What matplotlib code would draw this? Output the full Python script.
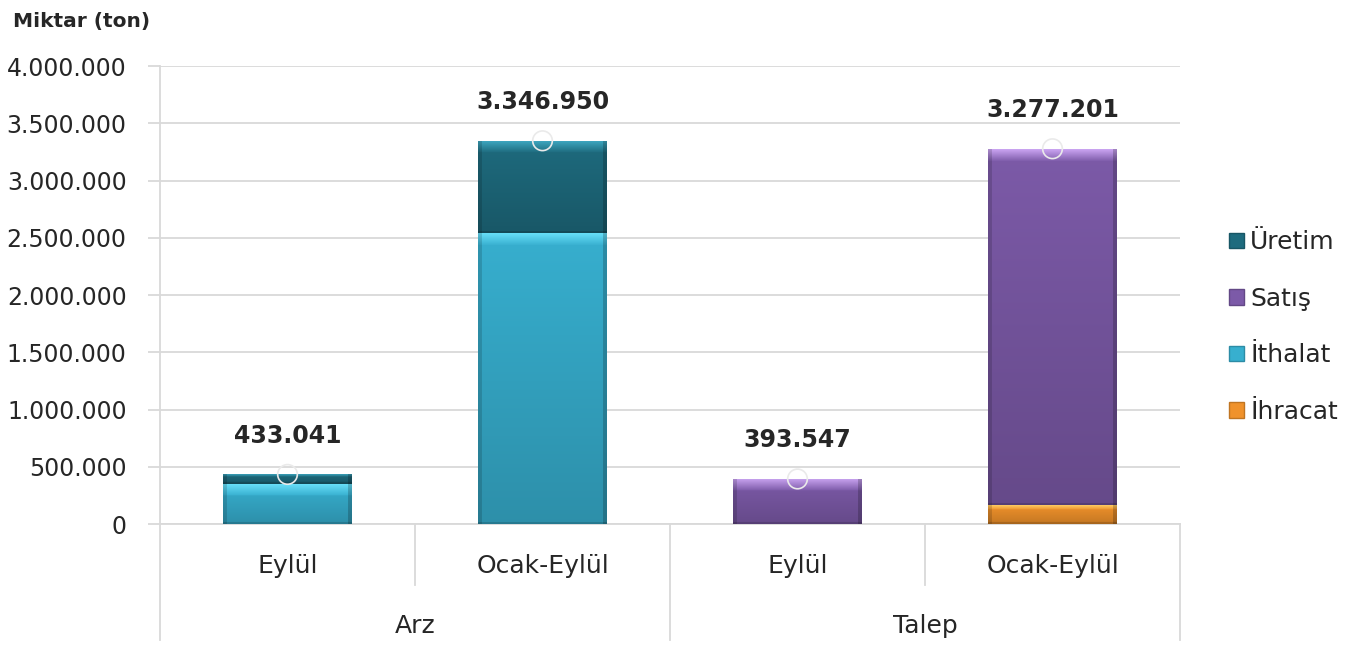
import numpy as np
import matplotlib
matplotlib.use("Agg")
import matplotlib.pyplot as plt
from matplotlib.colors import to_rgb
from matplotlib.patches import Patch

# ---- data ----
groups = ["Arz", "Arz", "Talep", "Talep"]
periods = ["Eylül", "Ocak-Eylül", "Eylül", "Ocak-Eylül"]
group_names = ["Arz", "Talep"]
ihracat = [0, 0, 0, 170000]
ithalat = [345000, 2540000, 0, 0]
satis = [0, 0, 393547, 3107201]
uretim = [88041, 806950, 0, 0]
totals = [433041, 3346950, 393547, 3277201]
total_labels = ["433.041", "3.346.950", "393.547", "3.277.201"]
yticks = [0, 500000, 1000000, 1500000, 2000000, 2500000, 3000000, 3500000, 4000000]
ytick_labels = ["0", "500.000", "1.000.000", "1.500.000", "2.000.000",
                "2.500.000", "3.000.000", "3.500.000", "4.000.000"]

series = [("İhracat", ihracat, "#F0922B", "#FFD36A"),
          ("İthalat", ithalat, "#37AFCF", "#66DDF7"),
          ("Satış", satis, "#7C5AA8", "#C9A3F0"),
          ("Üretim", uretim, "#1E6B7E", "#3FA9C2")]

plt.rcParams['font.family'] = ['DejaVu Sans']
TXT = "#262626"
GRID = "#D9D9D9"

fig = plt.figure(figsize=(13.57, 6.46), dpi=100)
ax = fig.add_axes([160/1357, 1-524/646, 1020/1357, (524-66)/646])

x = np.arange(len(periods))
W = 0.505
bottom = np.zeros(len(periods))
px_per_unit = 458 / 4.0e6


def shade(c, f):
    c = np.array(to_rgb(c))
    return np.clip(c * f, 0, 1)


def mix(c1, c2, t):
    return np.array(to_rgb(c1)) * (1 - t) + np.array(to_rgb(c2)) * t


for name, vals, col, hi in series:
    vals = np.array(vals, dtype=float)
    bars = ax.bar(x, vals, W, bottom=bottom, color=col, edgecolor="none",
                  label=name, zorder=3)
    for b, v in zip(bars, vals):
        if v <= 0:
            continue
        x0, y0, w, h = b.get_x(), b.get_y(), b.get_width(), b.get_height()
        hp = max(int(h * px_per_unit), 2)
        wp = 130
        img = np.zeros((hp, wp, 3))
        band = min(12, max(2, int(0.3 * hp)))
        for r in range(hp):
            t = r / max(hp - 1, 1)
            if r < band:
                c = mix(hi, col, r / band)
            else:
                c = shade(col, 1.0 - 0.18 * t)
            img[r, :, :] = c
        e = 4
        img[:, :e, :] *= 0.85
        img[:, -e:, :] *= 0.8
        img[-2:, :, :] *= 0.85
        im = ax.imshow(img, extent=(x0, x0 + w, y0, y0 + h), aspect='auto',
                       zorder=4, interpolation='bilinear')
        im.set_clip_path(b)
    bottom += vals

# faint hollow markers at totals
ax.scatter(x, totals, s=200, facecolors='none', edgecolors='#EAEAEA',
           linewidths=1.2, zorder=5)

for xi, t, lab in zip(x, totals, total_labels):
    ax.annotate(lab, (xi, t), xytext=(0, 28), textcoords='offset points',
                ha='center', va='center', fontsize=17, fontweight='bold',
                color=TXT, zorder=6)

ax.set_xlim(-0.5, 3.5)
ax.set_ylim(0, 4000000)
ax.set_yticks(yticks)
ax.set_yticklabels(ytick_labels, fontsize=17, color=TXT)
ax.yaxis.grid(True, color=GRID, linewidth=1.3, zorder=0)
ax.set_axisbelow(True)
ax.tick_params(axis='y', length=9, color=GRID, width=1.3, pad=15)
ax.set_xticks([])
for s in ["top", "right"]:
    ax.spines[s].set_visible(False)
ax.spines["left"].set_color(GRID)
ax.spines["left"].set_linewidth(1.3)
ax.spines["bottom"].set_color(GRID)
ax.spines["bottom"].set_linewidth(1.3)

trans = ax.get_xaxis_transform()
for xi, p in zip(x, periods):
    ax.text(xi, -42/458, p, transform=trans, ha='center', va='center',
            fontsize=18, color=TXT)
for gi, g in enumerate(group_names):
    ax.text(gi * 2 + 0.5, -102/458, g, transform=trans, ha='center',
            va='center', fontsize=18, color=TXT)
# category separators
for xs, yend in [(-0.5, -116/458), (0.5, -61/458), (1.5, -116/458),
                 (2.5, -61/458), (3.5, -116/458)]:
    ax.plot([xs, xs], [0, yend], transform=trans, color=GRID, lw=1.3,
            clip_on=False)

fig.text(13/1357, 1-22/646, "Miktar (ton)", ha='left', va='center',
         fontsize=14.5, fontweight='bold', color=TXT)

handles = [Patch(facecolor=c, edgecolor=shade(c, 0.8)) for _, _, c, _ in series][::-1]
labels = [n for n, _, _, _ in series][::-1]
fig.legend(handles, labels, loc='center left',
           bbox_to_anchor=(1219/1357, 1-327/646), frameon=False,
           fontsize=18, labelcolor=TXT, handlelength=0.6, handleheight=0.6,
           handletextpad=0.25, labelspacing=1.3, borderaxespad=0)

fig.savefig("out.png", dpi=100)
